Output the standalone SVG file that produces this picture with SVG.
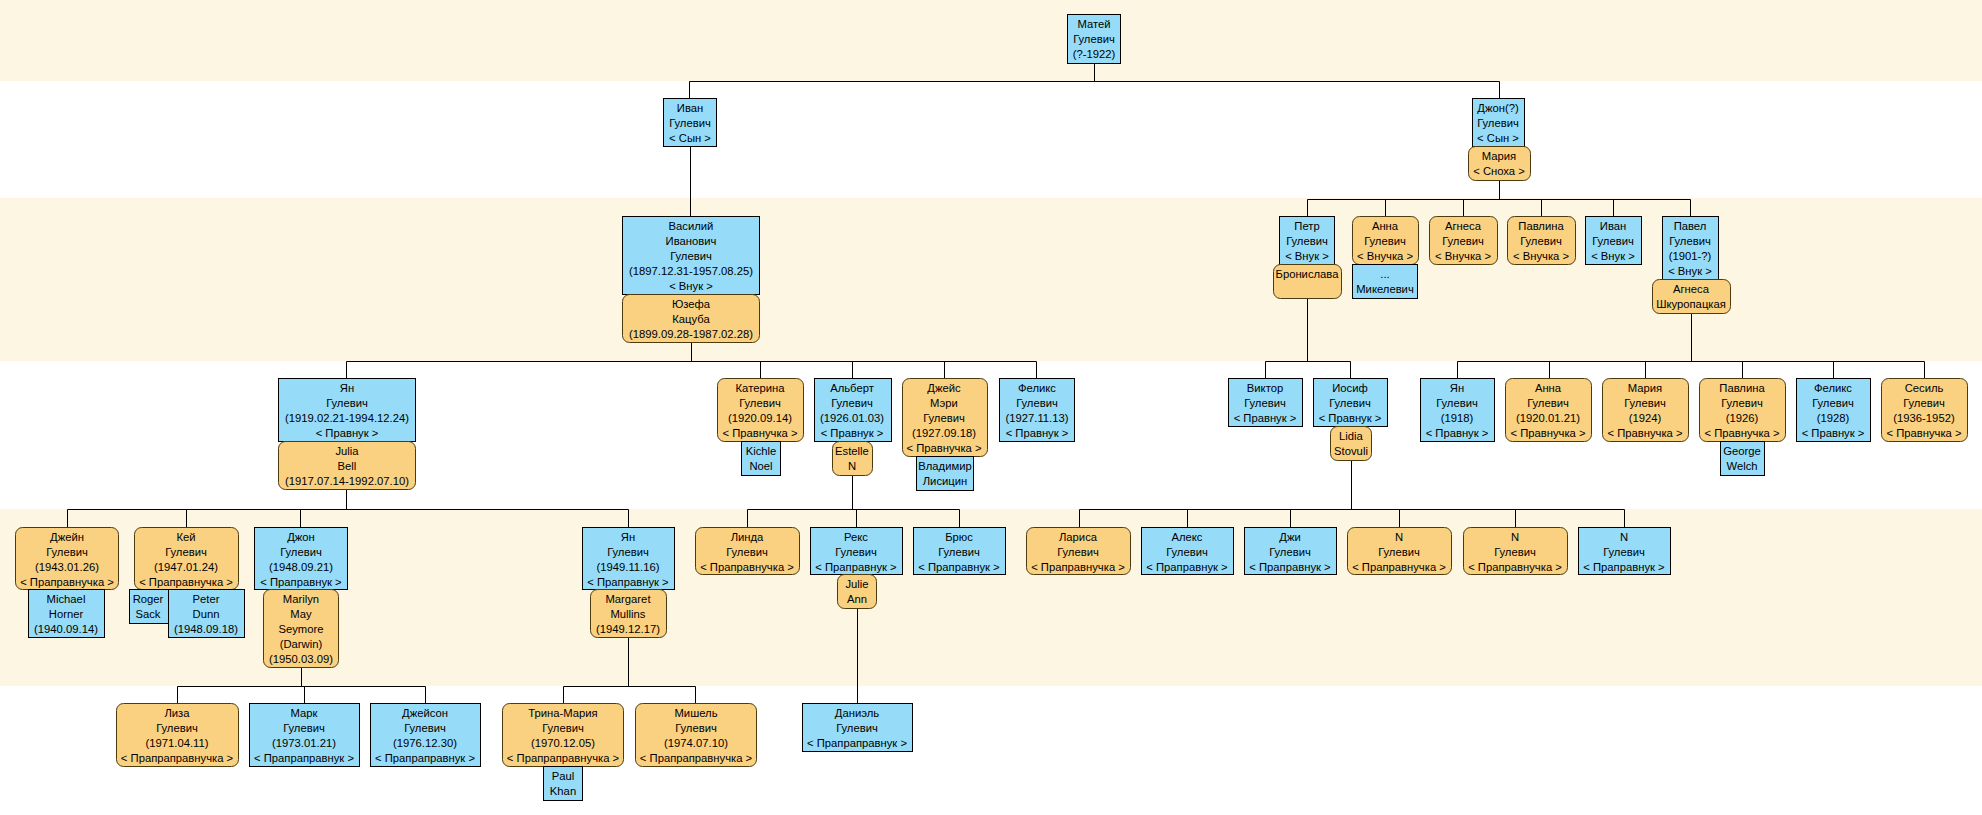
<svg xmlns="http://www.w3.org/2000/svg" width="1982" height="815" viewBox="0 0 1982 815">
<style>
text{font-family:"Liberation Sans",Arial,sans-serif;font-size:11.25px;fill:#000;text-anchor:middle}
.m{fill:#96dcf8;stroke:#000;stroke-width:1}
.f{fill:#fad180;stroke:#4d3b10;stroke-width:1}
.band{fill:#fdf6e3}
#connectors path{fill:none;stroke:#000;stroke-width:1}
</style>
<rect width="1982" height="815" fill="#fff"/>
<g id="bands">
<rect class="band" x="0" y="0" width="1982" height="81"/>
<rect class="band" x="0" y="198" width="1982" height="163"/>
<rect class="band" x="0" y="509" width="1982" height="177"/>
</g>
<g id="connectors">
<path d="M1094.5 63V81.5M689.5 81.5H1499.5M689.5 81.5V98M1499.5 81.5V98"/>
<path d="M690.5 146V216"/>
<path d="M1499.5 180V199.5M1307.5 199.5H1690.5M1307.5 199.5V216M1385.5 199.5V216M1463.5 199.5V216M1541.5 199.5V216M1613.5 199.5V216M1690.5 199.5V216"/>
<path d="M691.5 342V361.5M346.5 361.5H1036.5M346.5 361.5V378M760.5 361.5V378M852.5 361.5V378M944.5 361.5V378M1036.5 361.5V378"/>
<path d="M1307.5 298V361.5M1265.5 361.5H1350.5M1265.5 361.5V378M1350.5 361.5V378"/>
<path d="M1691.5 313V361.5M1457.5 361.5H1924.5M1457.5 361.5V378M1549.5 361.5V378M1645.5 361.5V378M1742.5 361.5V378M1833.5 361.5V378M1924.5 361.5V378"/>
<path d="M346.5 489V509.5M67.5 509.5H628.5M67.5 509.5V527M186.5 509.5V527M300.5 509.5V527M628.5 509.5V527"/>
<path d="M852.5 475V509.5M747.5 509.5H959.5M747.5 509.5V527M856.5 509.5V527M959.5 509.5V527"/>
<path d="M1351.5 460V509.5M1079.5 509.5H1624.5M1079.5 509.5V527M1187.5 509.5V527M1290.5 509.5V527M1399.5 509.5V527M1515.5 509.5V527M1624.5 509.5V527"/>
<path d="M301.5 668V686.5M177.5 686.5H425.5M177.5 686.5V703M304.5 686.5V703M425.5 686.5V703"/>
<path d="M628.5 638V686.5M563.5 686.5H695.5M563.5 686.5V703M695.5 686.5V703"/>
<path d="M857.5 609V703"/>
</g>

<g id="n-matey"><rect class="m" x="1067.5" y="14.5" width="53" height="49"/><text x="1094" y="28"><tspan x="1094">Матей</tspan><tspan x="1094" dy="15">Гулевич</tspan><tspan x="1094" dy="15">(?-1922)</tspan></text></g>

<g id="n-ivan"><rect class="m" x="663.5" y="98.5" width="53" height="48"/><text x="690" y="112"><tspan x="690">Иван</tspan><tspan x="690" dy="15">Гулевич</tspan><tspan x="690" dy="15">&lt; Сын &gt;</tspan></text></g>

<g id="n-dzhon"><rect class="m" x="1472.5" y="98.5" width="52" height="48"/><text x="1498" y="112"><tspan x="1498">Джон(?)</tspan><tspan x="1498" dy="15">Гулевич</tspan><tspan x="1498" dy="15">&lt; Сын &gt;</tspan></text>
<rect class="f" x="1468.5" y="146.5" width="62" height="34" rx="7"/><text x="1499" y="160"><tspan x="1499">Мария</tspan><tspan x="1499" dy="15">&lt; Сноха &gt;</tspan></text></g>

<g id="n-vasiliy"><rect class="m" x="622.5" y="216.5" width="137" height="78"/><text x="691" y="230"><tspan x="691">Василий</tspan><tspan x="691" dy="15">Иванович</tspan><tspan x="691" dy="15">Гулевич</tspan><tspan x="691" dy="15">(1897.12.31-1957.08.25)</tspan><tspan x="691" dy="15">&lt; Внук &gt;</tspan></text>
<rect class="f" x="622.5" y="294.5" width="137" height="48" rx="7"/><text x="691" y="308"><tspan x="691">Юзефа</tspan><tspan x="691" dy="15">Кацуба</tspan><tspan x="691" dy="15">(1899.09.28-1987.02.28)</tspan></text></g>

<g id="n-petr"><rect class="m" x="1279.5" y="216.5" width="55" height="48"/><text x="1307" y="230"><tspan x="1307">Петр</tspan><tspan x="1307" dy="15">Гулевич</tspan><tspan x="1307" dy="15">&lt; Внук &gt;</tspan></text>
<rect class="f" x="1273.5" y="264.5" width="68" height="34" rx="7"/><text x="1307" y="278">Бронислава</text></g>

<g id="n-anna"><rect class="f" x="1352.5" y="216.5" width="66" height="48" rx="7"/><text x="1385" y="230"><tspan x="1385">Анна</tspan><tspan x="1385" dy="15">Гулевич</tspan><tspan x="1385" dy="15">&lt; Внучка &gt;</tspan></text>
<rect class="m" x="1352.5" y="264.5" width="65" height="34"/><text x="1385" y="278"><tspan x="1385">...</tspan><tspan x="1385" dy="15">Микелевич</tspan></text></g>

<g id="n-agnesa"><rect class="f" x="1429.5" y="216.5" width="68" height="48" rx="7"/><text x="1463" y="230"><tspan x="1463">Агнеса</tspan><tspan x="1463" dy="15">Гулевич</tspan><tspan x="1463" dy="15">&lt; Внучка &gt;</tspan></text></g>

<g id="n-pavlina"><rect class="f" x="1507.5" y="216.5" width="68" height="48" rx="7"/><text x="1541" y="230"><tspan x="1541">Павлина</tspan><tspan x="1541" dy="15">Гулевич</tspan><tspan x="1541" dy="15">&lt; Внучка &gt;</tspan></text></g>

<g id="n-ivan2"><rect class="m" x="1585.5" y="216.5" width="56" height="48"/><text x="1613" y="230"><tspan x="1613">Иван</tspan><tspan x="1613" dy="15">Гулевич</tspan><tspan x="1613" dy="15">&lt; Внук &gt;</tspan></text></g>

<g id="n-pavel"><rect class="m" x="1662.5" y="216.5" width="56" height="63"/><text x="1690" y="230"><tspan x="1690">Павел</tspan><tspan x="1690" dy="15">Гулевич</tspan><tspan x="1690" dy="15">(1901-?)</tspan><tspan x="1690" dy="15">&lt; Внук &gt;</tspan></text>
<rect class="f" x="1652.5" y="279.5" width="78" height="34" rx="7"/><text x="1691" y="293"><tspan x="1691">Агнеса</tspan><tspan x="1691" dy="15">Шкуропацкая</tspan></text></g>

<g id="n-yan"><rect class="m" x="278.5" y="378.5" width="137" height="63"/><text x="347" y="392"><tspan x="347">Ян</tspan><tspan x="347" dy="15">Гулевич</tspan><tspan x="347" dy="15">(1919.02.21-1994.12.24)</tspan><tspan x="347" dy="15">&lt; Правнук &gt;</tspan></text>
<rect class="f" x="278.5" y="441.5" width="137" height="48" rx="7"/><text x="347" y="455"><tspan x="347">Julia</tspan><tspan x="347" dy="15">Bell</tspan><tspan x="347" dy="15">(1917.07.14-1992.07.10)</tspan></text></g>

<g id="n-katerina"><rect class="f" x="717.5" y="378.5" width="86" height="63" rx="7"/><text x="760" y="392"><tspan x="760">Катерина</tspan><tspan x="760" dy="15">Гулевич</tspan><tspan x="760" dy="15">(1920.09.14)</tspan><tspan x="760" dy="15">&lt; Правнучка &gt;</tspan></text>
<rect class="m" x="741.5" y="441.5" width="39" height="34"/><text x="761" y="455"><tspan x="761">Kichle</tspan><tspan x="761" dy="15">Noel</tspan></text></g>

<g id="n-albert"><rect class="m" x="814.5" y="378.5" width="77" height="63"/><text x="852" y="392"><tspan x="852">Альберт</tspan><tspan x="852" dy="15">Гулевич</tspan><tspan x="852" dy="15">(1926.01.03)</tspan><tspan x="852" dy="15">&lt; Правнук &gt;</tspan></text>
<rect class="f" x="832.5" y="441.5" width="40" height="34" rx="7"/><text x="852" y="455"><tspan x="852">Estelle</tspan><tspan x="852" dy="15">N</tspan></text></g>

<g id="n-dzheys"><rect class="f" x="902.5" y="378.5" width="85" height="78" rx="7"/><text x="944" y="392"><tspan x="944">Джейс</tspan><tspan x="944" dy="15">Мэри</tspan><tspan x="944" dy="15">Гулевич</tspan><tspan x="944" dy="15">(1927.09.18)</tspan><tspan x="944" dy="15">&lt; Правнучка &gt;</tspan></text>
<rect class="m" x="916.5" y="456.5" width="57" height="34"/><text x="945" y="470"><tspan x="945">Владимир</tspan><tspan x="945" dy="15">Лисицин</tspan></text></g>

<g id="n-feliks"><rect class="m" x="999.5" y="378.5" width="75" height="63"/><text x="1037" y="392"><tspan x="1037">Феликс</tspan><tspan x="1037" dy="15">Гулевич</tspan><tspan x="1037" dy="15">(1927.11.13)</tspan><tspan x="1037" dy="15">&lt; Правнук &gt;</tspan></text></g>

<g id="n-viktor"><rect class="m" x="1228.5" y="378.5" width="74" height="48"/><text x="1265" y="392"><tspan x="1265">Виктор</tspan><tspan x="1265" dy="15">Гулевич</tspan><tspan x="1265" dy="15">&lt; Правнук &gt;</tspan></text></g>

<g id="n-iosif"><rect class="m" x="1313.5" y="378.5" width="74" height="48"/><text x="1350" y="392"><tspan x="1350">Иосиф</tspan><tspan x="1350" dy="15">Гулевич</tspan><tspan x="1350" dy="15">&lt; Правнук &gt;</tspan></text>
<rect class="f" x="1330.5" y="426.5" width="41" height="34" rx="7"/><text x="1351" y="440"><tspan x="1351">Lidia</tspan><tspan x="1351" dy="15">Stovuli</tspan></text></g>

<g id="n-yan1918"><rect class="m" x="1420.5" y="378.5" width="74" height="63"/><text x="1457" y="392"><tspan x="1457">Ян</tspan><tspan x="1457" dy="15">Гулевич</tspan><tspan x="1457" dy="15">(1918)</tspan><tspan x="1457" dy="15">&lt; Правнук &gt;</tspan></text></g>

<g id="n-anna1920"><rect class="f" x="1505.5" y="378.5" width="86" height="63" rx="7"/><text x="1548" y="392"><tspan x="1548">Анна</tspan><tspan x="1548" dy="15">Гулевич</tspan><tspan x="1548" dy="15">(1920.01.21)</tspan><tspan x="1548" dy="15">&lt; Правнучка &gt;</tspan></text></g>

<g id="n-mariya1924"><rect class="f" x="1602.5" y="378.5" width="86" height="63" rx="7"/><text x="1645" y="392"><tspan x="1645">Мария</tspan><tspan x="1645" dy="15">Гулевич</tspan><tspan x="1645" dy="15">(1924)</tspan><tspan x="1645" dy="15">&lt; Правнучка &gt;</tspan></text></g>

<g id="n-pavlina1926"><rect class="f" x="1699.5" y="378.5" width="86" height="63" rx="7"/><text x="1742" y="392"><tspan x="1742">Павлина</tspan><tspan x="1742" dy="15">Гулевич</tspan><tspan x="1742" dy="15">(1926)</tspan><tspan x="1742" dy="15">&lt; Правнучка &gt;</tspan></text>
<rect class="m" x="1720.5" y="441.5" width="44" height="34"/><text x="1742" y="455"><tspan x="1742">George</tspan><tspan x="1742" dy="15">Welch</tspan></text></g>

<g id="n-feliks1928"><rect class="m" x="1796.5" y="378.5" width="74" height="63"/><text x="1833" y="392"><tspan x="1833">Феликс</tspan><tspan x="1833" dy="15">Гулевич</tspan><tspan x="1833" dy="15">(1928)</tspan><tspan x="1833" dy="15">&lt; Правнук &gt;</tspan></text></g>

<g id="n-sesil"><rect class="f" x="1881.5" y="378.5" width="86" height="63" rx="7"/><text x="1924" y="392"><tspan x="1924">Сесиль</tspan><tspan x="1924" dy="15">Гулевич</tspan><tspan x="1924" dy="15">(1936-1952)</tspan><tspan x="1924" dy="15">&lt; Правнучка &gt;</tspan></text></g>

<g id="n-dzheyn"><rect class="f" x="15.5" y="527.5" width="103" height="62" rx="7"/><text x="67" y="541"><tspan x="67">Джейн</tspan><tspan x="67" dy="15">Гулевич</tspan><tspan x="67" dy="15">(1943.01.26)</tspan><tspan x="67" dy="15">&lt; Праправнучка &gt;</tspan></text>
<rect class="m" x="28.5" y="589.5" width="76" height="48"/><text x="66" y="603"><tspan x="66">Michael</tspan><tspan x="66" dy="15">Horner</tspan><tspan x="66" dy="15">(1940.09.14)</tspan></text></g>

<g id="n-key"><rect class="f" x="134.5" y="527.5" width="104" height="62" rx="7"/><text x="186" y="541"><tspan x="186">Кей</tspan><tspan x="186" dy="15">Гулевич</tspan><tspan x="186" dy="15">(1947.01.24)</tspan><tspan x="186" dy="15">&lt; Праправнучка &gt;</tspan></text>
<rect class="m" x="129.5" y="589.5" width="39" height="34"/><text x="148" y="603"><tspan x="148">Roger</tspan><tspan x="148" dy="15">Sack</tspan></text>
<rect class="m" x="168.5" y="589.5" width="76" height="48"/><text x="206" y="603"><tspan x="206">Peter</tspan><tspan x="206" dy="15">Dunn</tspan><tspan x="206" dy="15">(1948.09.18)</tspan></text></g>

<g id="n-dzhon1948"><rect class="m" x="254.5" y="527.5" width="93" height="62"/><text x="301" y="541"><tspan x="301">Джон</tspan><tspan x="301" dy="15">Гулевич</tspan><tspan x="301" dy="15">(1948.09.21)</tspan><tspan x="301" dy="15">&lt; Праправнук &gt;</tspan></text>
<rect class="f" x="263.5" y="589.5" width="75" height="78" rx="7"/><text x="301" y="603"><tspan x="301">Marilyn</tspan><tspan x="301" dy="15">May</tspan><tspan x="301" dy="15">Seymore</tspan><tspan x="301" dy="15">(Darwin)</tspan><tspan x="301" dy="15">(1950.03.09)</tspan></text></g>

<g id="n-yan1949"><rect class="m" x="582.5" y="527.5" width="92" height="62"/><text x="628" y="541"><tspan x="628">Ян</tspan><tspan x="628" dy="15">Гулевич</tspan><tspan x="628" dy="15">(1949.11.16)</tspan><tspan x="628" dy="15">&lt; Праправнук &gt;</tspan></text>
<rect class="f" x="590.5" y="589.5" width="76" height="48" rx="7"/><text x="628" y="603"><tspan x="628">Margaret</tspan><tspan x="628" dy="15">Mullins</tspan><tspan x="628" dy="15">(1949.12.17)</tspan></text></g>

<g id="n-linda"><rect class="f" x="695.5" y="527.5" width="104" height="47" rx="7"/><text x="747" y="541"><tspan x="747">Линда</tspan><tspan x="747" dy="15">Гулевич</tspan><tspan x="747" dy="15">&lt; Праправнучка &gt;</tspan></text></g>

<g id="n-reks"><rect class="m" x="810.5" y="527.5" width="92" height="47"/><text x="856" y="541"><tspan x="856">Рекс</tspan><tspan x="856" dy="15">Гулевич</tspan><tspan x="856" dy="15">&lt; Праправнук &gt;</tspan></text>
<rect class="f" x="837.5" y="574.5" width="39" height="34" rx="7"/><text x="857" y="588"><tspan x="857">Julie</tspan><tspan x="857" dy="15">Ann</tspan></text></g>

<g id="n-bryus"><rect class="m" x="913.5" y="527.5" width="92" height="47"/><text x="959" y="541"><tspan x="959">Брюс</tspan><tspan x="959" dy="15">Гулевич</tspan><tspan x="959" dy="15">&lt; Праправнук &gt;</tspan></text></g>

<g id="n-larisa"><rect class="f" x="1026.5" y="527.5" width="104" height="47" rx="7"/><text x="1078" y="541"><tspan x="1078">Лариса</tspan><tspan x="1078" dy="15">Гулевич</tspan><tspan x="1078" dy="15">&lt; Праправнучка &gt;</tspan></text></g>

<g id="n-aleks"><rect class="m" x="1141.5" y="527.5" width="92" height="47"/><text x="1187" y="541"><tspan x="1187">Алекс</tspan><tspan x="1187" dy="15">Гулевич</tspan><tspan x="1187" dy="15">&lt; Праправнук &gt;</tspan></text></g>

<g id="n-dzhi"><rect class="m" x="1244.5" y="527.5" width="92" height="47"/><text x="1290" y="541"><tspan x="1290">Джи</tspan><tspan x="1290" dy="15">Гулевич</tspan><tspan x="1290" dy="15">&lt; Праправнук &gt;</tspan></text></g>

<g id="n-n1"><rect class="f" x="1347.5" y="527.5" width="104" height="47" rx="7"/><text x="1399" y="541"><tspan x="1399">N</tspan><tspan x="1399" dy="15">Гулевич</tspan><tspan x="1399" dy="15">&lt; Праправнучка &gt;</tspan></text></g>

<g id="n-n2"><rect class="f" x="1463.5" y="527.5" width="104" height="47" rx="7"/><text x="1515" y="541"><tspan x="1515">N</tspan><tspan x="1515" dy="15">Гулевич</tspan><tspan x="1515" dy="15">&lt; Праправнучка &gt;</tspan></text></g>

<g id="n-n3"><rect class="m" x="1578.5" y="527.5" width="92" height="47"/><text x="1624" y="541"><tspan x="1624">N</tspan><tspan x="1624" dy="15">Гулевич</tspan><tspan x="1624" dy="15">&lt; Праправнук &gt;</tspan></text></g>

<g id="n-liza"><rect class="f" x="116.5" y="703.5" width="122" height="63" rx="7"/><text x="177" y="717"><tspan x="177">Лиза</tspan><tspan x="177" dy="15">Гулевич</tspan><tspan x="177" dy="15">(1971.04.11)</tspan><tspan x="177" dy="15">&lt; Прапраправнучка &gt;</tspan></text></g>

<g id="n-mark"><rect class="m" x="249.5" y="703.5" width="110" height="63"/><text x="304" y="717"><tspan x="304">Марк</tspan><tspan x="304" dy="15">Гулевич</tspan><tspan x="304" dy="15">(1973.01.21)</tspan><tspan x="304" dy="15">&lt; Прапраправнук &gt;</tspan></text></g>

<g id="n-dzheyson"><rect class="m" x="370.5" y="703.5" width="110" height="63"/><text x="425" y="717"><tspan x="425">Джейсон</tspan><tspan x="425" dy="15">Гулевич</tspan><tspan x="425" dy="15">(1976.12.30)</tspan><tspan x="425" dy="15">&lt; Прапраправнук &gt;</tspan></text></g>

<g id="n-trina"><rect class="f" x="502.5" y="703.5" width="121" height="63" rx="7"/><text x="563" y="717"><tspan x="563">Трина-Мария</tspan><tspan x="563" dy="15">Гулевич</tspan><tspan x="563" dy="15">(1970.12.05)</tspan><tspan x="563" dy="15">&lt; Прапраправнучка &gt;</tspan></text>
<rect class="m" x="543.5" y="766.5" width="39" height="34"/><text x="563" y="780"><tspan x="563">Paul</tspan><tspan x="563" dy="15">Khan</tspan></text></g>

<g id="n-mishel"><rect class="f" x="635.5" y="703.5" width="121" height="63" rx="7"/><text x="696" y="717"><tspan x="696">Мишель</tspan><tspan x="696" dy="15">Гулевич</tspan><tspan x="696" dy="15">(1974.07.10)</tspan><tspan x="696" dy="15">&lt; Прапраправнучка &gt;</tspan></text></g>

<g id="n-daniel"><rect class="m" x="802.5" y="703.5" width="110" height="48"/><text x="857" y="717"><tspan x="857">Даниэль</tspan><tspan x="857" dy="15">Гулевич</tspan><tspan x="857" dy="15">&lt; Прапраправнук &gt;</tspan></text></g>
</svg>
